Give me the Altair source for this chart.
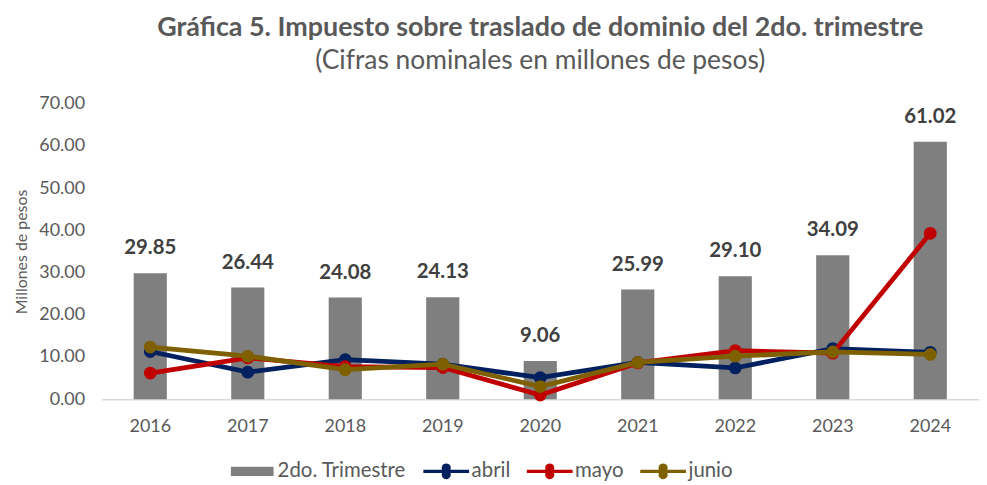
import altair as alt
import pandas as pd

years = ["2016", "2017", "2018", "2019", "2020", "2021", "2022", "2023", "2024"]
trimestre = [29.85, 26.44, 24.08, 24.13, 9.06, 25.99, 29.10, 34.09, 61.02]
abril = [11.3, 6.4, 9.4, 8.3, 5.1, 8.7, 7.4, 12.0, 11.1]
mayo = [6.2, 9.8, 7.7, 7.5, 1.0, 8.6, 11.5, 10.9, 39.3]
junio = [12.35, 10.2, 7.0, 8.3, 3.0, 8.7, 10.2, 11.2, 10.6]

series_names = ["2do. Trimestre", "abril", "mayo", "junio"]
series_colors = ["#7f7f7f", "#002060", "#c00000", "#7f6000"]

rows = []
for i, y in enumerate(years):
    rows.append({"year": y, "serie": "2do. Trimestre", "value": trimestre[i]})
    rows.append({"year": y, "serie": "abril", "value": abril[i]})
    rows.append({"year": y, "serie": "mayo", "value": mayo[i]})
    rows.append({"year": y, "serie": "junio", "value": junio[i]})
df = pd.DataFrame(rows)

FONT = "Lato"
GRAY = "#595959"

bar_path = "M-1.4,-0.3H1.4V0.3H-1.4Z"
line_path = ("M-1.5,-0.11H-0.28A0.3,0.3 0 1 1 0.28,-0.11H1.5V0.11H0.28"
             "A0.3,0.3 0 1 1 -0.28,0.11H-1.5Z")

legend_def = alt.Legend(
    title=None,
    orient="none",
    legendX=136,
    legendY=354,
    direction="horizontal",
    labelFont=FONT,
    labelFontSize=20.5,
    labelColor=GRAY,
    symbolSize=940,
    symbolStrokeWidth=0,
    symbolOpacity=1,
    labelOffset=10,
    columnPadding=16,
)

color_legend = alt.Color(
    "serie:N",
    scale=alt.Scale(domain=series_names, range=series_colors),
    sort=series_names,
    legend=legend_def,
)
shape_legend = alt.Shape(
    "serie:N",
    scale=alt.Scale(domain=series_names, range=[bar_path, line_path, line_path, line_path]),
    sort=series_names,
    legend=legend_def,
)

x = alt.X(
    "year:N",
    title=None,
    sort=years,
    scale=alt.Scale(paddingInner=0.66, paddingOuter=0.33),
    axis=alt.Axis(
        labelAngle=0,
        labelFont=FONT,
        labelFontSize=18,
        labelColor=GRAY,
        labelPadding=18,
        ticks=False,
        domainColor="#d9d9d9",
        domainWidth=1.5,
        grid=False,
    ),
)

y = alt.Y(
    "value:Q",
    title="Millones de pesos",
    scale=alt.Scale(domain=[0, 70], nice=False),
    axis=alt.Axis(
        values=[0, 10, 20, 30, 40, 50, 60, 70],
        format=".2f",
        labelFont=FONT,
        labelFontSize=18,
        labelColor=GRAY,
        labelPadding=17,
        ticks=False,
        domain=False,
        grid=False,
        titleFont=FONT,
        titleFontSize=16,
        titleFontWeight="normal",
        titleColor=GRAY,
        titlePadding=9,
    ),
)

base = alt.Chart(df)
bar_data = base.transform_filter(alt.datum.serie == series_names[0])

bars = bar_data.mark_bar(color=series_colors[0]).encode(x=x, y=y)

labels = bar_data.mark_text(
    baseline="bottom", dy=-15, font=FONT, fontSize=20.5, fontWeight="bold", color="#404040"
).encode(x=x, y=y, text=alt.Text("value:Q", format=".2f"))

legend_layer = base.mark_point(filled=True, opacity=0, size=10).encode(
    x=x, y=y, color=color_legend, shape=shape_legend
)

layers = [bars, labels, legend_layer]
for s, c in zip(series_names[1:], series_colors[1:]):
    sub = base.transform_filter(alt.datum.serie == s)
    layers.append(sub.mark_line(strokeWidth=4.8, color=c).encode(x=x, y=y))
    layers.append(
        sub.mark_point(filled=True, size=165, opacity=1, strokeWidth=0, color=c).encode(x=x, y=y)
    )

chart = alt.layer(*layers).properties(
    width=882,
    height=297,
    padding={"left": 5, "top": 4, "right": 0, "bottom": 0},
    title=alt.TitleParams(
        text="Gráfica 5. Impuesto sobre traslado de dominio del 2do. trimestre",
        subtitle="(Cifras nominales en millones de pesos)",
        font=FONT,
        fontSize=27,
        fontWeight="bold",
        color=GRAY,
        subtitleFont=FONT,
        subtitleFontSize=26.5,
        subtitleColor=GRAY,
        subtitlePadding=7,
        anchor="middle",
        offset=19,
    ),
).configure_view(stroke=None)

chart.save("out.html", embed_options={"renderer": "svg", "actions": False})
